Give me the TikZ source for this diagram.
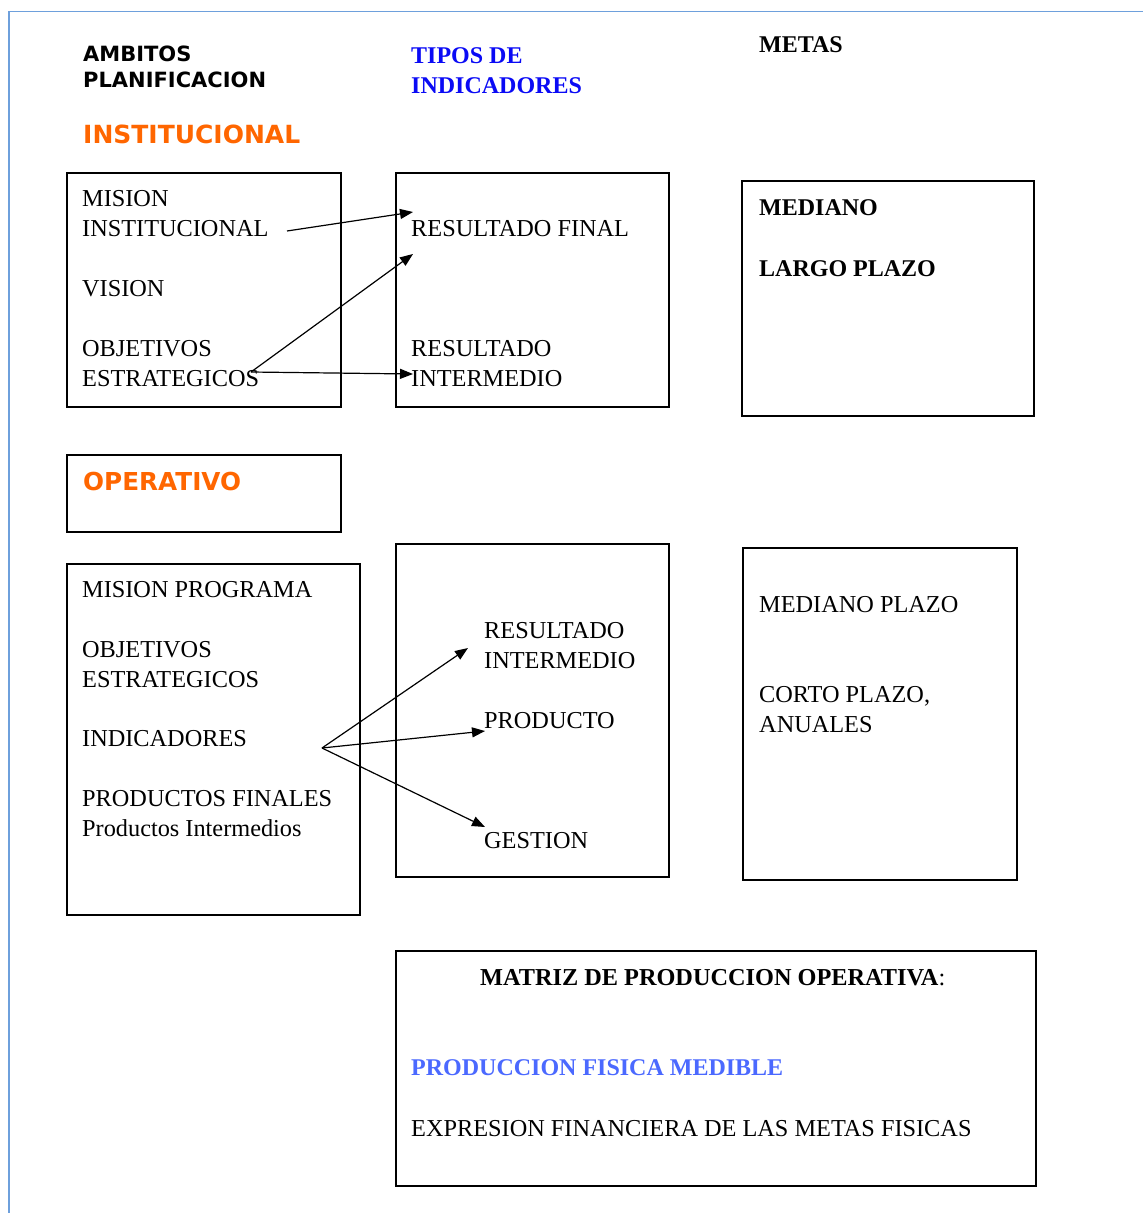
\documentclass[tikz,border=0pt]{standalone}
\usepackage{fontspec}
\setmainfont{Liberation Serif}
\newfontfamily\verdsans{DejaVu Sans}
\usetikzlibrary{arrows.meta}
\definecolor{marco}{RGB}{110,160,220}
\definecolor{naranja}{RGB}{255,102,0}
\definecolor{azul}{RGB}{10,10,245}
\definecolor{celeste}{RGB}{75,105,255}
\tikzset{
  caja/.style={draw,line width=1.4pt,inner sep=0pt},
  txt/.style={anchor=base west,inner sep=0pt,align=left,font=\fontsize{24.3}{30}\selectfont},
  tit/.style={txt,font=\fontsize{24}{30}\selectfont\bfseries},
  sans/.style={anchor=base west,inner sep=0pt,align=left,font=\verdsans\bfseries\fontsize{21}{26}\selectfont},
  flecha/.style={-{Triangle[length=13pt,width=10pt]},line width=1.2pt}
}
\begin{document}
\begin{tikzpicture}[x=1pt,y=-1pt]
  \useasboundingbox (0,0) rectangle (1143,1213);
  \draw[marco,line width=1.8pt] (9,1213) -- (9,11.5) -- (1143,11.5);
  \node[sans] (amb) at (83,87) {AMBITOS\\PLANIFICACION};
  \node[tit,azul] (tipos) at (411,93) {TIPOS DE\\INDICADORES};
  \node[tit] (metas) at (759,52) {METAS};
  \node[sans,naranja,font=\verdsans\bfseries\fontsize{25}{30}\selectfont] (inst) at (83,143) {INSTITUCIONAL};
  \node[caja,minimum width=274,minimum height=234] (cA) at (204,290) {};
  \node[caja,minimum width=273,minimum height=234] (cB) at (532.5,290) {};
  \node[caja,minimum width=292,minimum height=235] (cC) at (888,298.5) {};
  \node[caja,minimum width=274,minimum height=77] (cD) at (204,493.5) {};
  \node[caja,minimum width=293,minimum height=351] (cE) at (213.5,739.5) {};
  \node[caja,minimum width=273,minimum height=333] (cF) at (532.5,710.5) {};
  \node[caja,minimum width=274,minimum height=332] (cG) at (880,714) {};
  \node[caja,minimum width=640,minimum height=235] (cH) at (716,1068.5) {};
  \node[txt] (mis) at (82,236) {MISION\\INSTITUCIONAL};
  \node[txt] (vis) at (82,296) {VISION};
  \node[txt] (obj) at (82,386) {OBJETIVOS\\ESTRATEGICOS};
  \node[txt] (rfin) at (411,236) {RESULTADO FINAL};
  \node[txt] (rint) at (411,386) {RESULTADO\\INTERMEDIO};
  \node[tit] (med) at (759,215) {MEDIANO};
  \node[tit] (lar) at (759,276) {LARGO PLAZO};
  \node[sans,naranja,font=\verdsans\bfseries\fontsize{24.7}{30}\selectfont] (oper) at (83,490) {OPERATIVO};
  \node[txt] (mprog) at (82,597) {MISION PROGRAMA};
  \node[txt] (obj2) at (82,687) {OBJETIVOS\\ESTRATEGICOS};
  \node[txt] (indi) at (82,746) {INDICADORES};
  \node[txt] (prod) at (82,836) {PRODUCTOS FINALES\\Productos Intermedios};
  \node[txt] (rint2) at (484,668) {RESULTADO\\INTERMEDIO};
  \node[txt] (pto) at (484,728) {PRODUCTO};
  \node[txt] (ges) at (484,848) {GESTION};
  \node[txt] (medp) at (759,612) {MEDIANO PLAZO};
  \node[txt] (cort) at (759,732) {CORTO PLAZO,\\ANUALES};
  \node[txt] (matriz) at (480,985) {\bfseries MATRIZ DE PRODUCCION OPERATIVA\mdseries:};
  \node[tit,celeste] (fis) at (411,1075) {PRODUCCION FISICA MEDIBLE};
  \node[txt] (expr) at (411,1136) {EXPRESION FINANCIERA DE LAS METAS FISICAS};
  \coordinate (M) at (287,231);
  \coordinate (F1) at (413,212);
  \coordinate (E) at (251,372);
  \coordinate (F2) at (413,254);
  \coordinate (I1) at (413,374);
  \coordinate (D) at (322,748);
  \coordinate (I2) at (468,648);
  \coordinate (P) at (485,731);
  \coordinate (G) at (485,827);
  \draw[flecha] (M) -- (F1);
  \draw[flecha] (E) -- (F2);
  \draw[flecha] (E) -- (I1);
  \draw[flecha] (D) -- (I2);
  \draw[flecha] (D) -- (P);
  \draw[flecha] (D) -- (G);
\end{tikzpicture}
\end{document}
